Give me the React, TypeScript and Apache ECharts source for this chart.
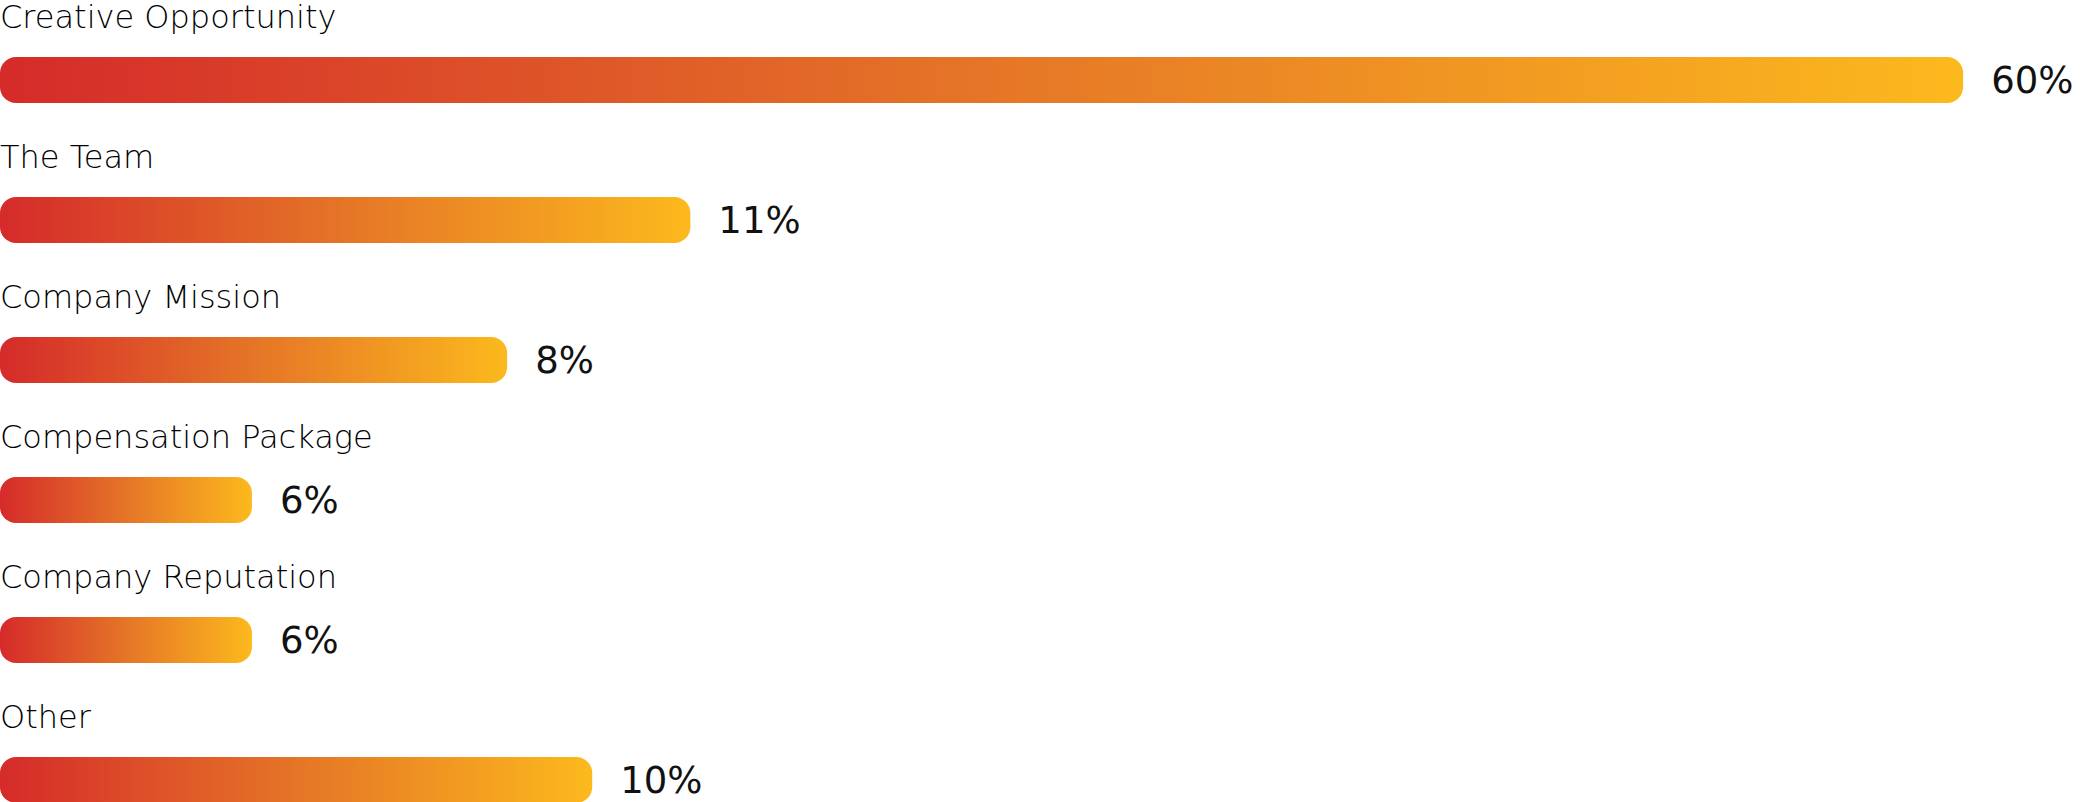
import { useEffect, useRef } from "react";
import * as echarts from "echarts";

const categories = [
  "Creative Opportunity",
  "The Team",
  "Company Mission",
  "Compensation Package",
  "Company Reputation",
  "Other",
];
// percentages printed next to each bar
const shares = [60, 11, 8, 6, 6, 10];
// bar lengths as drawn in the picture (same units as the 60% bar)
const barLengths = [60, 21.1, 15.5, 7.7, 7.7, 18.1];

const FONT = "'DejaVu Sans', sans-serif";

export default function App() {
  const ref = useRef<HTMLDivElement>(null);

  useEffect(() => {
    if (!ref.current) return;
    const chart = echarts.init(ref.current, undefined, { renderer: "svg" });

    const gradient = new echarts.graphic.LinearGradient(0, 0, 1, 0, [
      { offset: 0, color: "#d52b2a" },
      { offset: 0.5, color: "#e57527" },
      { offset: 1, color: "#fcb91d" },
    ]);

    chart.setOption({
      animation: false,
      // the last row sits on the bottom edge of the window, so the canvas runs past it
      grid: { left: 0, width: 2094, top: 10, height: 840 },
      xAxis: { type: "value", min: 0, max: 64, show: false },
      yAxis: {
        type: "category",
        inverse: true,
        data: categories,
        show: false,
      },
      series: [
        {
          type: "bar",
          barWidth: 46,
          data: barLengths,
          itemStyle: { color: gradient, borderRadius: 16 },
          label: {
            show: true,
            position: "right",
            distance: 28,
            formatter: (p: { dataIndex: number }) => `${shares[p.dataIndex]}%`,
            fontFamily: FONT,
            fontSize: 37,
            color: "#111",
          },
        },
        {
          // invisible twin bar carrying the category name above each bar
          type: "bar",
          barWidth: 46,
          barGap: "-100%",
          data: barLengths,
          itemStyle: { color: "transparent" },
          label: {
            show: true,
            position: [0, -40],
            verticalAlign: "middle",
            align: "left",
            formatter: (p: { name: string }) => p.name,
            fontFamily: FONT,
            fontSize: 32,
            fontWeight: 200,
            color: "#000",
          },
        },
      ],
    });

    return () => chart.dispose();
  }, []);

  return (
    <div
      ref={ref}
      style={{ position: "fixed", left: 0, top: 0, width: 2094, height: 860, background: "#fff" }}
    />
  );
}
